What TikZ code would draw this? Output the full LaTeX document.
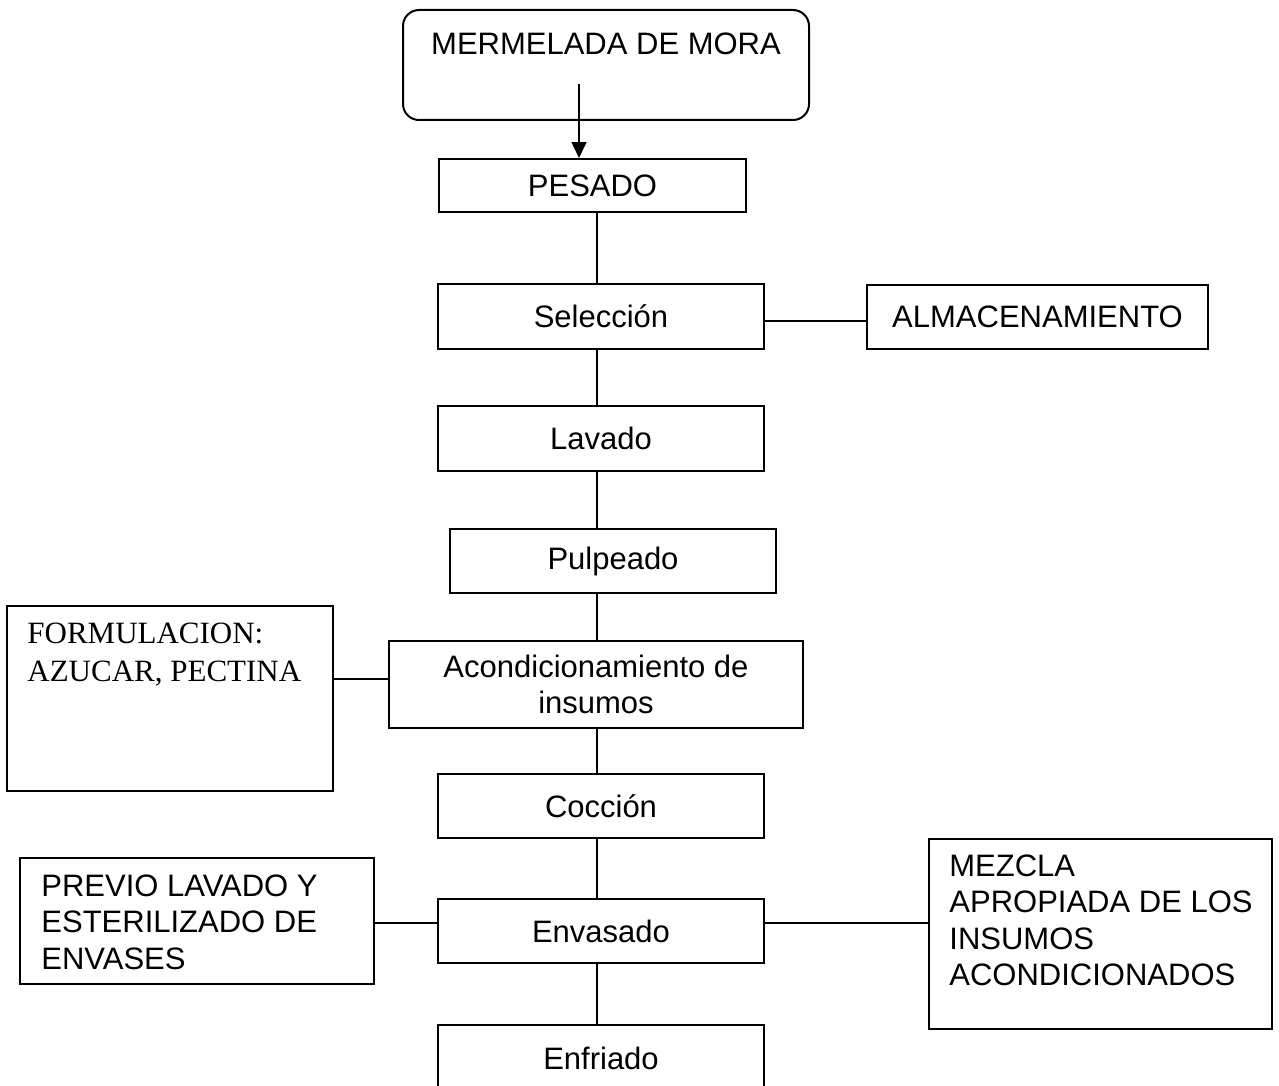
\documentclass[tikz,border=0pt]{standalone}
\usepackage{fontspec}
\setmainfont{Liberation Sans}
\newfontfamily\romana{Liberation Serif}
\usetikzlibrary{arrows.meta}
\tikzset{
caja/.style={ % recuadros del proceso
draw,
line width=1pt,
inner sep=0pt},
nota/.style={ % texto arriba a la izquierda
inner sep=0pt,
align=left,
anchor=north west},
enlace/.style={ % lineas entre cajas
draw,
line width=0.8pt},
flecha/.style={enlace, -{Triangle[length=8pt,width=7.5pt]}}}

\begin{document}
\begin{tikzpicture}[x=0.5pt,y=-0.5pt,font=\fontsize{15.5pt}{18.3pt}\selectfont]
\clip (0,0) rectangle (1279,1086);
\fill[white] (0,0) rectangle (1279,1086);
% cajas
\node[caja,rounded corners=8pt,minimum width=203pt,minimum height=55pt] (inicio) at (606,65) {};
\node[anchor=base] (tInicio) at (606,55) {MERMELADA DE MORA};
\node[caja,minimum width=153.5pt,minimum height=26.5pt] (pesado) at (592.5,185.5) {PESADO};
\node[caja,minimum width=163pt,minimum height=32.5pt] (seleccion) at (601,316.5) {Selección};
\node[caja,minimum width=170.5pt,minimum height=32pt] (almacen) at (1037.5,317) {ALMACENAMIENTO};
\node[caja,minimum width=163pt,minimum height=32.5pt] (lavado) at (601,438.5) {Lavado};
\node[caja,minimum width=163pt,minimum height=32pt] (pulpeado) at (613,561) {Pulpeado};
\node[caja,minimum width=207pt,minimum height=43.5pt,align=center] (acond) at (596,684.5) {Acondicionamiento de\\insumos};
\node[caja,minimum width=163pt,minimum height=92.5pt] (formul) at (170,698.5) {};
\node[nota,font=\romana\fontsize{15.5pt}{19pt}\selectfont] (tFormul) at (27,623) {FORMULACION:\\AZUCAR, PECTINA};
\node[caja,minimum width=163pt,minimum height=32pt] (coccion) at (601,806) {Cocción};
\node[caja,minimum width=163pt,minimum height=32pt] (envasado) at (601,931) {Envasado};
\node[caja,minimum width=177pt,minimum height=63pt] (previo) at (197,921) {};
\node[nota] (tPrevio) at (41,874) {PREVIO LAVADO Y\\ESTERILIZADO DE\\ENVASES};
\node[caja,minimum width=171.5pt,minimum height=95pt] (mezcla) at (1100.5,934) {};
\node[nota] (tMezcla) at (949,854) {MEZCLA\\APROPIADA DE LOS\\INSUMOS\\ACONDICIONADOS};
\node[caja,minimum width=163pt,minimum height=33.5pt] (enfriado) at (601,1058.5) {Enfriado};
% conexiones
\coordinate (ini) at (579,84);
\coordinate (eje) at (597,0);
\draw[flecha] (ini) -- (ini |- pesado.north);
\foreach \a/\b in {pesado/seleccion,seleccion/lavado,lavado/pulpeado,pulpeado/acond,acond/coccion,coccion/envasado,envasado/enfriado}
  \draw[enlace] (\a.south -| eje) -- (\b.north -| eje);
\draw[enlace] (seleccion.east |- 0,321) -- (almacen.west |- 0,321);
\draw[enlace] (formul.east |- 0,679) -- (acond.west |- 0,679);
\draw[enlace] (previo.east |- 0,923) -- (envasado.west |- 0,923);
\draw[enlace] (envasado.east |- 0,923) -- (mezcla.west |- 0,923);
\end{tikzpicture}
\end{document}
